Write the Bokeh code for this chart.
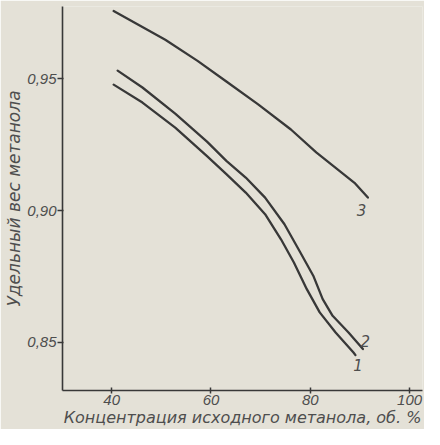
from bokeh.plotting import figure
from bokeh.models import Range1d, FixedTicker, ColumnDataSource
from bokeh.core.properties import value
from bokeh.embed import file_html
from bokeh.resources import INLINE

# Curve 1 (lower)
x1 = [40.4, 46.2, 52.8, 59.2, 63.1, 67.0, 70.9, 74.1, 76.7, 79.3, 81.9, 85.1, 88.7, 89.1]
y1 = [0.9477, 0.9409, 0.9314, 0.9206, 0.9138, 0.9068, 0.8986, 0.8891, 0.8803, 0.8702, 0.8614, 0.8538, 0.8462, 0.8452]
# Curve 2 (middle)
x2 = [41.2, 46.2, 52.8, 59.2, 63.1, 67.0, 70.9, 74.8, 78.0, 80.6, 82.5, 84.5, 87.7, 90.6]
y2 = [0.9530, 0.9466, 0.9367, 0.9261, 0.9188, 0.9125, 0.9049, 0.8948, 0.8841, 0.8753, 0.8664, 0.8601, 0.8538, 0.8475]
# Curve 3 (upper)
x3 = [40.4, 50.8, 57.3, 63.1, 69.5, 76.1, 81.2, 88.9, 91.6]
y3 = [0.9756, 0.9647, 0.9567, 0.9489, 0.9402, 0.9307, 0.9220, 0.9105, 0.9049]

x_ticks = [40, 60, 80, 100]
x_tick_labels = ["40", "60", "80", "100"]
y_ticks = [0.85, 0.90, 0.95]
y_tick_labels = ["0,85", "0,90", "0,95"]
curve_names = ["1", "2", "3"]

bg = "#e4e1d7"
ink = "#383838"
txt = "#4e4e4e"
font = "DejaVu Sans"
tick_font = "Liberation Sans"

p = figure(width=424, height=429, output_backend="svg", toolbar_location=None,
           x_range=Range1d(30.1, 102.6), y_range=Range1d(0.8318, 0.9773),
           min_border_left=62, min_border_top=6, min_border_right=2, min_border_bottom=39)
p.background_fill_color = bg
p.border_fill_color = bg
p.outline_line_color = None
p.grid.visible = False

for xs, ys in [(x1, y1), (x2, y2), (x3, y3)]:
    p.line(xs, ys, line_color=ink, line_width=2.3, line_join="round", line_cap="round")

# curve labels
lab_src = ColumnDataSource(dict(x=[89.6, 91.1, 90.3], y=[0.8439, 0.8527, 0.9023], t=curve_names))
p.text(x="x", y="y", text="t", source=lab_src, text_font=value(font), text_font_style="italic",
       text_font_size="15px", text_color=txt, text_align="center", text_baseline="top")

xa = p.xaxis[0]
xa.ticker = FixedTicker(ticks=x_ticks)
xa.major_label_overrides = {t: l for t, l in zip(x_ticks, x_tick_labels)}
xa.axis_label = "Концентрация исходного метанола, об. %"
ya = p.yaxis[0]
ya.ticker = FixedTicker(ticks=y_ticks)
ya.major_label_overrides = {t: l for t, l in zip(y_ticks, y_tick_labels)}
ya.axis_label = "Удельный вес метанола"

for ax in (xa, ya):
    ax.axis_line_color = ink
    ax.axis_line_width = 1.6
    ax.major_tick_line_color = ink
    ax.major_tick_line_width = 1.5
    ax.minor_tick_line_color = None
    ax.major_label_text_font = tick_font
    ax.major_label_text_font_style = "italic"
    ax.major_label_text_font_size = "15px"
    ax.major_label_text_color = txt
    ax.axis_label_text_font = font
    ax.axis_label_text_font_style = "italic"
    ax.axis_label_text_color = txt

xa.axis_label_text_font_size = "16px"
ya.axis_label_text_font_size = "17px"
xa.major_tick_in = 3
xa.major_tick_out = 3
xa.major_label_standoff = 1
xa.axis_label_standoff = 0
ya.major_tick_in = 1
ya.major_tick_out = 5
ya.major_label_standoff = 1
ya.axis_label_standoff = 0

open("out.html", "w").write(file_html(p, INLINE))
